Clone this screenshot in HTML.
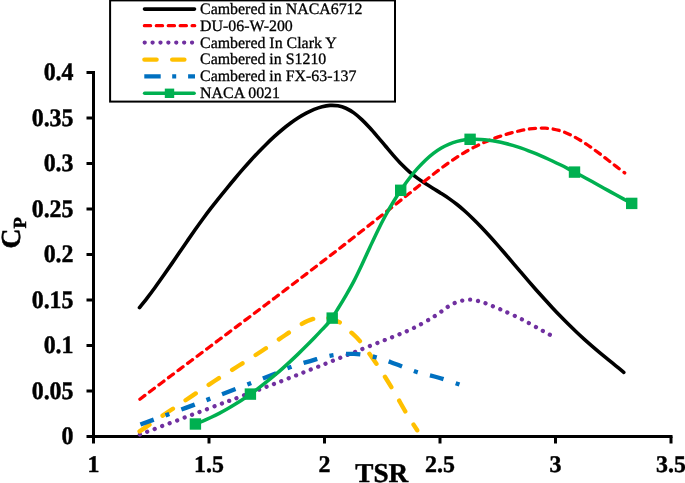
<!DOCTYPE html>
<html><head><meta charset="utf-8"><title>Chart</title>
<style>html,body{margin:0;padding:0;background:#fff;}body{width:685px;height:483px;overflow:hidden;font-family:"Liberation Serif",serif;}svg{display:block;will-change:transform;}</style></head>
<body>
<svg text-rendering="geometricPrecision" width="685" height="483" viewBox="0 0 685 483">
<rect width="685" height="483" fill="#fff"/>
<g stroke="#000" stroke-width="3" fill="none">
<path d="M93.5,71 V443.5"/>
<path d="M86.5,436.5 H672.5"/>
<path d="M209.0,436.5 V443.5"/>
<path d="M324.5,436.5 V443.5"/>
<path d="M440.0,436.5 V443.5"/>
<path d="M555.5,436.5 V443.5"/>
<path d="M671.0,436.5 V443.5"/>
<path d="M86.5,391.0 H93.5"/>
<path d="M86.5,345.5 H93.5"/>
<path d="M86.5,300.0 H93.5"/>
<path d="M86.5,254.5 H93.5"/>
<path d="M86.5,209.0 H93.5"/>
<path d="M86.5,163.5 H93.5"/>
<path d="M86.5,118.0 H93.5"/>
<path d="M86.5,72.5 H93.5"/>
</g>
<g fill="none" stroke-linejoin="round">
<path d="M139.50,307.70 C140.82,306.02 144.79,301.10 147.44,297.64 C150.09,294.18 152.73,290.59 155.38,286.95 C158.03,283.31 160.67,279.57 163.32,275.80 C165.97,272.03 168.61,268.19 171.26,264.35 C173.91,260.51 176.55,256.61 179.20,252.75 C181.85,248.89 184.49,245.01 187.14,241.19 C189.79,237.37 192.44,233.54 195.08,229.80 C197.73,226.06 200.37,222.37 203.01,218.77 C205.65,215.17 208.30,211.66 210.95,208.21 C213.60,204.76 216.24,201.39 218.89,198.07 C221.54,194.75 224.18,191.50 226.83,188.27 C229.48,185.05 232.12,181.86 234.77,178.72 C237.42,175.58 240.06,172.48 242.71,169.44 C245.36,166.40 248.00,163.41 250.65,160.50 C253.30,157.59 255.94,154.74 258.59,151.97 C261.24,149.20 263.88,146.51 266.53,143.91 C269.18,141.31 271.82,138.79 274.47,136.39 C277.12,133.99 279.76,131.68 282.41,129.49 C285.06,127.30 287.70,125.21 290.35,123.26 C293.00,121.31 295.64,119.47 298.29,117.77 C300.94,116.07 303.58,114.50 306.23,113.09 C308.88,111.68 311.53,110.39 314.17,109.32 C316.81,108.25 319.46,107.31 322.10,106.66 C324.75,106.01 327.39,105.54 330.04,105.40 C332.69,105.26 335.33,105.37 337.98,105.84 C340.63,106.31 343.27,107.07 345.92,108.25 C348.57,109.43 351.21,111.01 353.86,112.90 C356.51,114.79 359.15,117.12 361.80,119.60 C364.45,122.07 367.09,124.88 369.74,127.75 C372.39,130.62 375.03,133.72 377.68,136.81 C380.33,139.90 382.97,143.14 385.62,146.27 C388.27,149.40 390.91,152.60 393.56,155.60 C396.21,158.60 398.85,161.58 401.50,164.29 C404.15,167.00 406.79,169.53 409.44,171.84 C412.09,174.15 414.73,176.19 417.38,178.14 C420.03,180.09 422.67,181.83 425.32,183.56 C427.97,185.29 430.61,186.88 433.26,188.52 C435.91,190.16 438.56,191.72 441.20,193.40 C443.84,195.08 446.49,196.76 449.13,198.61 C451.77,200.47 454.42,202.42 457.07,204.53 C459.72,206.64 462.36,208.90 465.01,211.26 C467.66,213.62 470.30,216.12 472.95,218.70 C475.60,221.28 478.24,223.97 480.89,226.73 C483.54,229.49 486.18,232.35 488.83,235.25 C491.48,238.15 494.12,241.12 496.77,244.13 C499.42,247.13 502.06,250.21 504.71,253.28 C507.36,256.35 510.00,259.46 512.65,262.56 C515.30,265.66 517.94,268.79 520.59,271.88 C523.24,274.97 525.88,278.07 528.53,281.12 C531.18,284.17 533.82,287.20 536.47,290.19 C539.12,293.18 541.76,296.14 544.41,299.06 C547.06,301.98 549.70,304.85 552.35,307.68 C555.00,310.51 557.64,313.31 560.29,316.04 C562.93,318.77 565.58,321.45 568.22,324.08 C570.87,326.70 573.51,329.28 576.16,331.79 C578.81,334.30 581.45,336.74 584.10,339.12 C586.75,341.50 589.39,343.82 592.04,346.10 C594.69,348.38 597.33,350.61 599.98,352.82 C602.63,355.03 605.27,357.20 607.92,359.37 C610.57,361.54 613.21,363.67 615.86,365.83 C618.51,367.99 622.48,371.22 623.80,372.30" stroke="#000" stroke-width="3.6" stroke-linecap="round"/>
<path d="M139.90,399.20 C141.22,398.20 145.20,395.20 147.85,393.20 C150.50,391.20 153.15,389.21 155.80,387.22 C158.45,385.23 161.09,383.23 163.74,381.24 C166.39,379.25 169.04,377.27 171.69,375.28 C174.34,373.29 176.99,371.30 179.64,369.31 C182.29,367.32 184.94,365.35 187.59,363.36 C190.24,361.38 192.88,359.38 195.53,357.40 C198.18,355.41 200.83,353.43 203.48,351.45 C206.13,349.47 208.78,347.48 211.43,345.50 C214.08,343.52 216.73,341.54 219.38,339.55 C222.03,337.56 224.67,335.58 227.32,333.59 C229.97,331.60 232.62,329.62 235.27,327.63 C237.92,325.64 240.57,323.66 243.22,321.67 C245.87,319.68 248.52,317.69 251.17,315.70 C253.82,313.71 256.46,311.72 259.11,309.72 C261.76,307.73 264.41,305.73 267.06,303.73 C269.71,301.73 272.36,299.73 275.01,297.73 C277.66,295.73 280.31,293.72 282.96,291.71 C285.61,289.70 288.25,287.69 290.90,285.68 C293.55,283.67 296.20,281.66 298.85,279.64 C301.50,277.62 304.15,275.60 306.80,273.58 C309.45,271.56 312.10,269.53 314.75,267.50 C317.40,265.47 320.04,263.44 322.69,261.40 C325.34,259.36 327.99,257.32 330.64,255.28 C333.29,253.24 335.94,251.18 338.59,249.13 C341.24,247.08 343.89,245.02 346.54,242.96 C349.19,240.90 351.83,238.84 354.48,236.77 C357.13,234.70 359.78,232.62 362.43,230.54 C365.08,228.46 367.73,226.39 370.38,224.30 C373.03,222.22 375.68,220.12 378.33,218.03 C380.98,215.94 383.62,213.85 386.27,211.75 C388.92,209.65 391.57,207.54 394.22,205.44 C396.87,203.34 399.52,201.23 402.17,199.12 C404.82,197.01 407.47,194.90 410.12,192.79 C412.77,190.68 415.41,188.56 418.06,186.44 C420.71,184.32 423.36,182.19 426.01,180.08 C428.66,177.97 431.31,175.84 433.96,173.77 C436.61,171.70 439.26,169.64 441.91,167.67 C444.56,165.69 447.20,163.77 449.85,161.92 C452.50,160.07 455.15,158.29 457.80,156.59 C460.45,154.89 463.10,153.27 465.75,151.74 C468.40,150.21 471.05,148.77 473.70,147.40 C476.35,146.03 478.99,144.75 481.64,143.54 C484.29,142.33 486.94,141.20 489.59,140.14 C492.24,139.08 494.89,138.09 497.54,137.16 C500.19,136.23 502.84,135.38 505.49,134.57 C508.14,133.76 510.78,133.02 513.43,132.33 C516.08,131.64 518.73,130.99 521.38,130.43 C524.03,129.87 526.68,129.37 529.33,128.99 C531.98,128.61 534.63,128.31 537.28,128.17 C539.93,128.03 542.57,127.99 545.22,128.14 C547.87,128.28 550.52,128.55 553.17,129.04 C555.82,129.53 558.47,130.20 561.12,131.06 C563.77,131.92 566.42,133.00 569.07,134.21 C571.72,135.42 574.36,136.82 577.01,138.32 C579.66,139.82 582.31,141.49 584.96,143.22 C587.61,144.95 590.26,146.81 592.91,148.71 C595.56,150.61 598.21,152.61 600.86,154.61 C603.51,156.61 606.15,158.68 608.80,160.73 C611.45,162.78 614.10,164.86 616.75,166.89 C619.40,168.92 623.38,171.90 624.70,172.90" stroke="#ff0000" stroke-width="3.3" stroke-linecap="round" stroke-dasharray="6.2 5.73"/>
<path d="M139.90,434.50 C150.88,430.35 188.38,416.15 205.80,409.60 C223.22,403.05 231.75,399.97 244.40,395.20 C257.05,390.43 269.55,385.70 281.70,381.00 C293.85,376.30 305.15,371.82 317.30,367.00 C329.45,362.18 342.15,357.07 354.60,352.10 C367.05,347.13 382.08,341.25 392.00,337.20 C401.92,333.15 406.98,331.32 414.10,327.80 C421.22,324.28 429.10,319.58 434.70,316.10 C440.30,312.62 444.38,309.07 447.70,306.90 C451.02,304.73 452.20,304.15 454.60,303.10 C457.00,302.05 459.53,301.17 462.10,300.60 C464.67,300.03 467.38,299.65 470.00,299.70 C472.62,299.75 475.18,300.28 477.80,300.90 C480.42,301.52 481.93,301.98 485.70,303.40 C489.47,304.82 494.38,306.75 500.40,309.40 C506.42,312.05 514.70,315.70 521.80,319.30 C528.90,322.90 538.30,328.42 543.00,331.00 C547.70,333.58 548.82,334.17 549.99,334.80" stroke="#7030a0" stroke-width="4.3" stroke-linecap="round" stroke-dasharray="0.01 7.94"/>
<path d="M139.60,431.40 C144.63,427.97 161.05,416.72 169.80,410.80 C178.55,404.88 184.65,400.87 192.10,395.90 C199.55,390.93 206.82,385.98 214.50,381.00 C222.18,376.02 230.32,371.00 238.20,366.00 C246.08,361.00 253.93,356.17 261.80,351.00 C269.67,345.83 277.80,340.00 285.40,335.00 C293.00,330.00 300.80,323.92 307.40,321.00 C314.00,318.08 319.62,317.28 325.00,317.50 C330.38,317.72 335.38,319.85 339.70,322.30 C344.02,324.75 347.38,328.88 350.90,332.20 C354.42,335.52 356.45,336.80 360.80,342.20 C365.15,347.60 371.80,356.93 377.00,364.60 C382.20,372.27 387.20,380.27 392.00,388.20 C396.80,396.13 401.60,405.18 405.80,412.20 C410.00,419.22 415.30,427.28 417.20,430.30" stroke="#ffc000" stroke-width="4.4" stroke-linecap="round" stroke-dasharray="12.2 15.6"/>
<path d="M140.40,424.50 C149.43,421.18 173.12,412.68 194.60,404.60 C216.08,396.52 253.40,382.22 269.30,376.00 C285.20,369.78 283.05,369.83 290.00,367.30 C296.95,364.77 303.97,362.78 311.00,360.80 C318.03,358.82 325.03,356.55 332.20,355.40 C339.37,354.25 346.82,353.62 354.00,353.90 C361.18,354.18 368.37,355.42 375.30,357.10 C382.23,358.78 388.68,361.52 395.60,364.00 C402.52,366.48 409.73,369.75 416.80,372.00 C423.87,374.25 430.89,375.42 438.00,377.50 C445.11,379.58 455.90,383.34 459.48,384.51" stroke="#0070c0" stroke-width="4.4" stroke-dasharray="14.3 12.6 4.1 12.6"/>
<path d="M195.40,424.00 C196.72,423.47 200.69,421.96 203.33,420.84 C205.98,419.72 208.62,418.53 211.27,417.28 C213.92,416.03 216.56,414.71 219.20,413.33 C221.84,411.95 224.49,410.51 227.13,409.00 C229.77,407.49 232.41,405.92 235.06,404.28 C237.71,402.64 240.35,400.94 243.00,399.18 C245.65,397.42 248.29,395.61 250.93,393.73 C253.57,391.85 256.22,389.90 258.86,387.90 C261.50,385.90 264.15,383.85 266.79,381.73 C269.44,379.61 272.09,377.43 274.73,375.20 C277.38,372.97 280.02,370.67 282.66,368.33 C285.30,365.99 287.94,363.58 290.59,361.13 C293.23,358.68 295.88,356.17 298.53,353.62 C301.17,351.07 303.82,348.46 306.46,345.82 C309.10,343.18 311.75,340.48 314.39,337.75 C317.03,335.02 319.68,332.28 322.32,329.43 C324.96,326.58 327.62,324.18 330.26,320.65 C332.90,317.12 335.55,312.54 338.19,308.27 C340.83,304.00 343.48,299.60 346.12,295.03 C348.76,290.46 351.41,285.93 354.05,280.84 C356.69,275.75 359.35,270.10 361.99,264.50 C364.63,258.90 367.28,252.92 369.92,247.24 C372.56,241.56 375.21,235.77 377.85,230.40 C380.50,225.03 383.15,219.89 385.79,215.03 C388.44,210.17 391.08,205.58 393.72,201.23 C396.36,196.88 399.01,192.79 401.65,188.92 C404.29,185.05 406.94,181.43 409.58,178.02 C412.22,174.61 414.88,171.43 417.52,168.46 C420.16,165.50 422.81,162.74 425.45,160.23 C428.09,157.72 430.74,155.44 433.38,153.40 C436.02,151.36 438.67,149.56 441.31,148.00 C443.95,146.44 446.61,145.14 449.25,144.03 C451.89,142.92 454.54,142.06 457.18,141.35 C459.82,140.64 462.47,140.15 465.11,139.79 C467.75,139.43 470.41,139.26 473.05,139.19 C475.69,139.12 478.34,139.22 480.98,139.39 C483.62,139.56 486.27,139.86 488.91,140.22 C491.55,140.58 494.19,141.04 496.84,141.55 C499.48,142.06 502.13,142.64 504.78,143.29 C507.42,143.94 510.07,144.66 512.71,145.44 C515.35,146.22 518.00,147.05 520.64,147.94 C523.28,148.83 525.93,149.78 528.57,150.78 C531.22,151.78 533.87,152.82 536.51,153.91 C539.15,155.00 541.80,156.14 544.44,157.32 C547.08,158.50 549.73,159.71 552.37,160.96 C555.01,162.21 557.66,163.49 560.31,164.80 C562.95,166.11 565.60,167.46 568.24,168.82 C570.88,170.18 573.53,171.58 576.17,172.98 C578.81,174.38 581.46,175.81 584.10,177.24 C586.75,178.68 589.39,180.13 592.04,181.59 C594.68,183.05 597.33,184.52 599.97,185.99 C602.61,187.46 605.26,188.92 607.90,190.39 C610.54,191.86 613.19,193.33 615.83,194.79 C618.48,196.25 621.12,197.70 623.77,199.13 C626.41,200.56 630.38,202.68 631.70,203.39" stroke="#00b050" stroke-width="3.5" stroke-linecap="round"/>
</g>
<rect x="189.70" y="418.30" width="11.4" height="11.4" fill="#00b050"/>
<rect x="244.70" y="388.40" width="11.4" height="11.4" fill="#00b050"/>
<rect x="326.50" y="312.40" width="11.4" height="11.4" fill="#00b050"/>
<rect x="395.00" y="184.60" width="11.4" height="11.4" fill="#00b050"/>
<rect x="464.40" y="133.60" width="11.4" height="11.4" fill="#00b050"/>
<rect x="568.80" y="166.40" width="11.4" height="11.4" fill="#00b050"/>
<rect x="626.00" y="197.70" width="11.4" height="11.4" fill="#00b050"/>
<g font-family="'Liberation Serif', serif" font-weight="bold" font-size="23.9px" fill="#000" stroke="#000" stroke-width="0.45">
<text transform="translate(93.5,471.6) scale(1,1)" text-anchor="middle">1</text>
<text transform="translate(209.0,471.6) scale(1,1)" text-anchor="middle">1.5</text>
<text transform="translate(324.5,471.6) scale(1,1)" text-anchor="middle">2</text>
<text transform="translate(440.0,471.6) scale(1,1)" text-anchor="middle">2.5</text>
<text transform="translate(555.5,471.6) scale(1,1)" text-anchor="middle">3</text>
<text transform="translate(671.0,471.6) scale(1,1)" text-anchor="middle">3.5</text>
<text transform="translate(73.5,444.2) scale(1,1.05)" text-anchor="end">0</text>
<text transform="translate(73.5,398.7) scale(1,1.05)" text-anchor="end">0.05</text>
<text transform="translate(73.5,353.2) scale(1,1.05)" text-anchor="end">0.1</text>
<text transform="translate(73.5,307.7) scale(1,1.05)" text-anchor="end">0.15</text>
<text transform="translate(73.5,262.2) scale(1,1.05)" text-anchor="end">0.2</text>
<text transform="translate(73.5,216.7) scale(1,1.05)" text-anchor="end">0.25</text>
<text transform="translate(73.5,171.2) scale(1,1.05)" text-anchor="end">0.3</text>
<text transform="translate(73.5,125.7) scale(1,1.05)" text-anchor="end">0.35</text>
<text transform="translate(73.5,80.2) scale(1,1.05)" text-anchor="end">0.4</text>
<text x="355.3" y="481.8" font-size="27.2px">TSR</text>
<text transform="translate(19.9,248.4) rotate(-90)" font-size="27.6px">C<tspan font-size="18.5px" dy="6.2">P</tspan></text>
</g>
<rect x="110.1" y="0.4" width="284.9" height="101.2" fill="#fff" stroke="#000" stroke-width="2"/>
<g fill="none">
<path d="M144.5,9.1 H194.5" stroke="#000" stroke-width="3.6" stroke-linecap="round"/>
<path d="M144.4,25.7 H194.7" stroke="#ff0000" stroke-width="3.3" stroke-linecap="round" stroke-dasharray="6.2 5.73"/>
<path d="M144.7,42.6 H195" stroke="#7030a0" stroke-width="4.3" stroke-linecap="round" stroke-dasharray="0.01 7.88"/>
<path d="M144.4,59.6 H195" stroke="#ffc000" stroke-width="4.4" stroke-linecap="round" stroke-dasharray="12.2 15.6"/>
<path d="M144.3,76.4 H195" stroke="#0070c0" stroke-width="4.4" stroke-dasharray="16.4 11.5 4 11.9"/>
<path d="M144.6,93.3 H194.1" stroke="#00b050" stroke-width="3.5" stroke-linecap="round"/>
</g>
<rect x="164.8" y="88.6" width="9.4" height="9.4" fill="#00b050"/>
<g font-family="'Liberation Serif', serif" font-size="15.9px" fill="#000" stroke="#000" stroke-width="0.3">
<text x="200.1" y="14.0">Cambered in NACA6712</text>
<text x="200.1" y="30.6">DU-06-W-200</text>
<text x="200.1" y="47.5">Cambered In Clark Y</text>
<text x="200.1" y="64.4">Cambered in S1210</text>
<text x="200.1" y="81.4">Cambered in FX-63-137</text>
<text x="200.1" y="98.3">NACA 0021</text>
</g>
</svg>
</body></html>
